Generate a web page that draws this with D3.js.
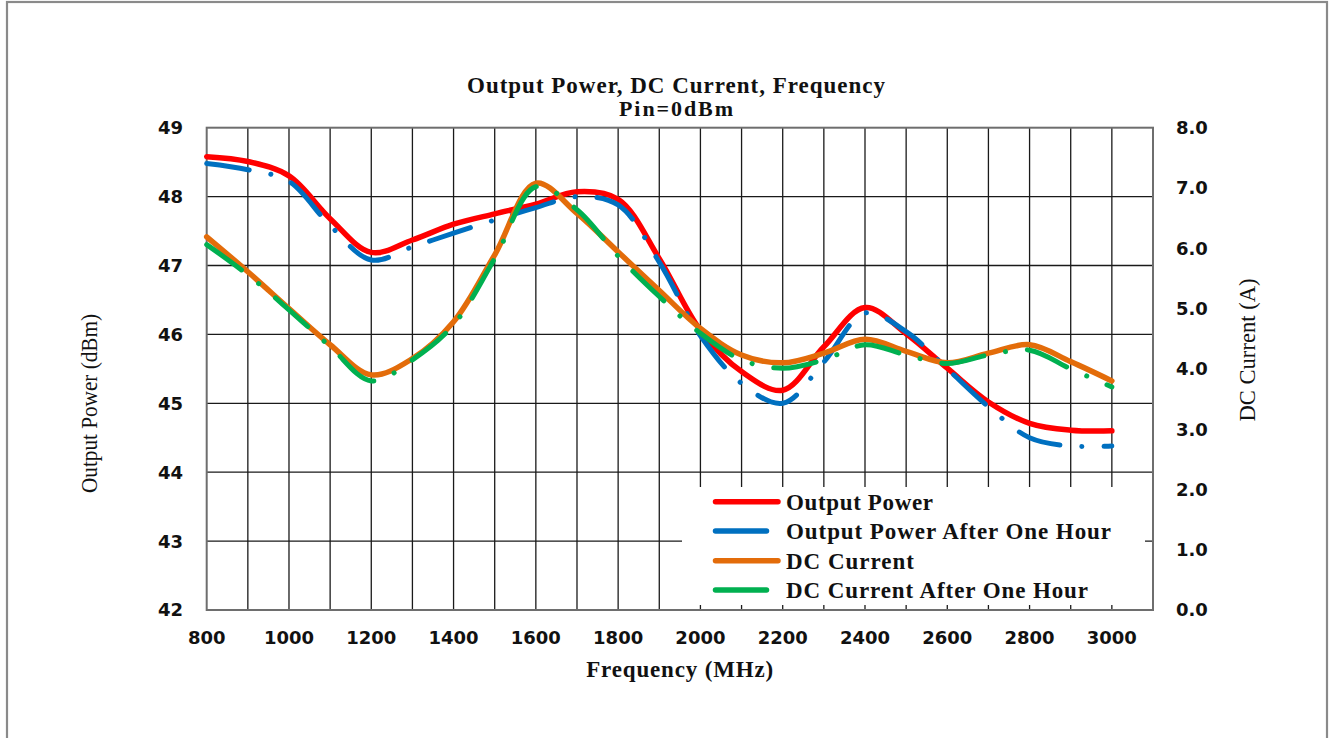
<!DOCTYPE html>
<html>
<head>
<meta charset="utf-8">
<script src="https://cdn.jsdelivr.net/npm/d3@7"></script>
<style>
  body { margin: 0; background: #fff; }
  svg { display: block; }
  .tick-lbl { font-family: "DejaVu Sans", Verdana, sans-serif; font-weight: bold; font-size: 18px; fill: #111; }
  .serif { font-family: "Liberation Serif", "Times New Roman", serif; fill: #111; }
</style>
</head>
<body>
<svg id="chart" width="1329" height="738"></svg>
<script>
// frequency points (MHz)
var freq = [800, 900, 1000, 1100, 1200, 1300, 1400, 1500, 1600, 1700, 1800, 1900,
            2000, 2100, 2200, 2300, 2400, 2500, 2600, 2700, 2800, 2900, 3000];
// output power (dBm), left axis
var outPower = [48.58, 48.51, 48.3, 47.68, 47.19, 47.37, 47.6, 47.75, 47.89, 48.07, 47.96, 47.1,
                46.06, 45.46, 45.19, 45.82, 46.39, 46.01, 45.51, 45.02, 44.71, 44.61, 44.6];
var outPowerHour = [48.48, 48.39, 48.22, 47.58, 47.08, 47.27, 47.47, 47.66, 47.84, 48.0, 47.88, 47.05,
                    45.98, 45.29, 45.0, 45.6, 46.31, 46.04, 45.5, 44.95, 44.5, 44.38, 44.38];
// DC current (A), right axis
var dcCurrent = [6.19, 5.61, 5.0, 4.4, 3.9, 4.17, 4.78, 5.89, 7.08, 6.58, 5.94, 5.3,
                 4.67, 4.23, 4.1, 4.26, 4.49, 4.29, 4.1, 4.26, 4.4, 4.12, 3.8];
var dcCurrentHour = [6.06, 5.56, 4.98, 4.37, 3.8, 4.15, 4.73, 5.83, 7.02, 6.64, 5.87, 5.2,
                     4.59, 4.15, 4.01, 4.15, 4.4, 4.23, 4.09, 4.23, 4.31, 4.0, 3.7];

var xTicks = [800, 1000, 1200, 1400, 1600, 1800, 2000, 2200, 2400, 2600, 2800, 3000];
var xGrid = [900, 1000, 1100, 1200, 1300, 1400, 1500, 1600, 1700, 1800, 1900, 2000,
             2100, 2200, 2300, 2400, 2500, 2600, 2700, 2800, 2900, 3000];
var yLeftTicks = [42, 43, 44, 45, 46, 47, 48, 49];
var yRightTicks = [0, 1, 2, 3, 4, 5, 6, 7, 8];

var series = [
  { name: "Output Power", vals: outPower, axis: "L", color: "#ff0000", dash: null },
  { name: "Output Power After One Hour", vals: outPowerHour, axis: "L", color: "#0070c0", dash: "43 22 0.1 22" },
  { name: "DC Current", vals: dcCurrent, axis: "R", color: "#e36c0a", dash: null },
  { name: "DC Current After One Hour", vals: dcCurrentHour, axis: "R", color: "#00b050", dash: "43 22 0.1 22" }
];

var svg = d3.select("#chart");
var L = 206.7, R = 1153, T = 127.7, B = 610;

var x = d3.scaleLinear().domain([800, 3100]).range([L, R]);
var yL = d3.scaleLinear().domain([42, 49]).range([B, T]);
var yR = d3.scaleLinear().domain([0, 8]).range([B, T]);

// outer frame
svg.append("rect").attr("x", 7).attr("y", 2).attr("width", 1320).attr("height", 745)
  .attr("fill", "#fff").attr("stroke", "#8a8a8a").attr("stroke-width", 2.2);

// grid
var grid = svg.append("g");
grid.selectAll(".vg").data(xGrid).enter().append("line")
  .attr("x1", d => x(d)).attr("x2", d => x(d)).attr("y1", T).attr("y2", B)
  .attr("stroke", "#1a1a1a").attr("stroke-width", 1.3);
grid.selectAll(".hg").data(yLeftTicks.slice(1, -1)).enter().append("line")
  .attr("x1", L).attr("x2", R).attr("y1", d => yL(d)).attr("y2", d => yL(d))
  .attr("stroke", "#1a1a1a").attr("stroke-width", 1.3);
svg.append("rect").attr("x", L).attr("y", T).attr("width", R - L).attr("height", B - T)
  .attr("fill", "none").attr("stroke", "#6e6e6e").attr("stroke-width", 2);

// tick labels
svg.append("g").selectAll("text").data(xTicks).enter().append("text")
  .attr("class", "tick-lbl").attr("x", d => x(d)).attr("y", 644)
  .attr("text-anchor", "middle").text(d => d);
svg.append("g").selectAll("text").data(yLeftTicks).enter().append("text")
  .attr("class", "tick-lbl").attr("x", 183).attr("y", d => yL(d)).attr("dy", "0.36em")
  .attr("text-anchor", "end").text(d => d);
svg.append("g").selectAll("text").data(yRightTicks).enter().append("text")
  .attr("class", "tick-lbl").attr("x", 1176).attr("y", d => yR(d)).attr("dy", "0.36em")
  .attr("text-anchor", "start").text(d => d3.format(".1f")(d));

// curves
var lines = svg.append("g");
series.forEach(function (s) {
  var ys = s.axis === "L" ? yL : yR;
  var line = d3.line()
    .x((d, i) => x(freq[i]))
    .y(d => ys(d))
    .curve(d3.curveCatmullRom.alpha(0.5));
  lines.append("path")
    .datum(s.vals)
    .attr("d", line)
    .attr("fill", "none")
    .attr("stroke", s.color)
    .attr("stroke-width", s.dash ? 5 : 5.5)
    .attr("stroke-linecap", "round")
    .attr("stroke-dasharray", s.dash);
});

// legend
var leg = svg.append("g");
leg.append("rect").attr("x", 682).attr("y", 487).attr("width", 463).attr("height", 118).attr("fill", "#fff");
var rowY = [501.7, 531, 560.7, 590];
var textLen = [147, 325, 128, 302];
series.forEach(function (s, i) {
  leg.append("line")
    .attr("x1", 715.5).attr("x2", s.dash ? 766.5 : 778)
    .attr("y1", rowY[i]).attr("y2", rowY[i])
    .attr("stroke", s.color).attr("stroke-width", 5.5).attr("stroke-linecap", "round");
  leg.append("text").attr("class", "serif")
    .attr("x", 786).attr("y", rowY[i] + 8)
    .attr("font-size", 23).attr("font-weight", "bold")
    .attr("textLength", textLen[i]).attr("lengthAdjust", "spacing")
    .text(s.name);
});

// titles
svg.append("text").attr("class", "serif").attr("x", 676).attr("y", 92.5)
  .attr("text-anchor", "middle").attr("font-size", 23).attr("font-weight", "bold")
  .attr("textLength", 418).attr("lengthAdjust", "spacing")
  .text("Output Power, DC Current, Frequency");
svg.append("text").attr("class", "serif").attr("x", 676).attr("y", 116)
  .attr("text-anchor", "middle").attr("font-size", 22).attr("font-weight", "bold")
  .attr("textLength", 114).attr("lengthAdjust", "spacing")
  .text("Pin=0dBm");
svg.append("text").attr("class", "serif").attr("x", 679.7).attr("y", 676.7)
  .attr("text-anchor", "middle").attr("font-size", 23).attr("font-weight", "bold")
  .attr("textLength", 187).attr("lengthAdjust", "spacing")
  .text("Frequency (MHz)");
svg.append("text").attr("class", "serif")
  .attr("transform", "translate(97,403.5) rotate(-90)")
  .attr("text-anchor", "middle").attr("font-size", 23)
  .attr("textLength", 179).attr("lengthAdjust", "spacingAndGlyphs")
  .text("Output Power (dBm)");
svg.append("text").attr("class", "serif")
  .attr("transform", "translate(1255,350) rotate(-90)")
  .attr("text-anchor", "middle").attr("font-size", 23)
  .attr("textLength", 143).attr("lengthAdjust", "spacingAndGlyphs")
  .text("DC Current (A)");
</script>
</body>
</html>
